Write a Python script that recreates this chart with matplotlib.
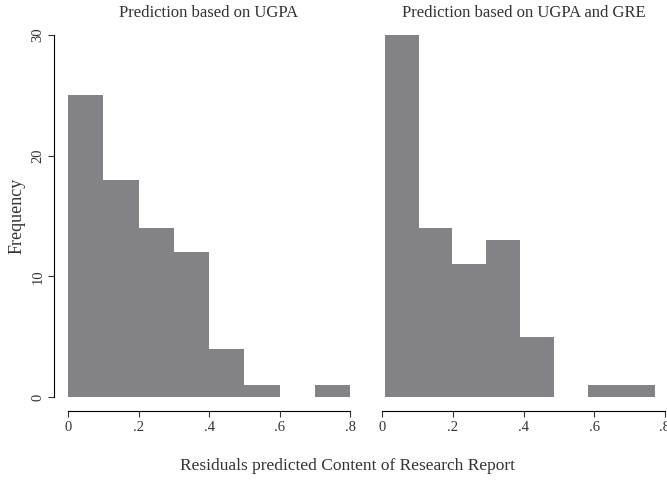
import matplotlib
matplotlib.use("Agg")
import matplotlib.pyplot as plt
import numpy as np

# histogram data
left_edges = [0.0, 0.1, 0.2, 0.3, 0.4, 0.5, 0.6, 0.7, 0.8]
left_counts = [25, 18, 14, 12, 4, 1, 0, 1]
right_edges = [0.008, 0.104, 0.199, 0.295, 0.390, 0.486, 0.581, 0.677, 0.772]
right_counts = [30, 14, 11, 13, 5, 0, 1, 1]

titles = ["Prediction based on UGPA", "Prediction based on UGPA and GRE"]
xticks = [0, 0.2, 0.4, 0.6, 0.8]
xtick_labels = ["0", ".2", ".4", ".6", ".8"]
yticks = [0, 10, 20, 30]

plt.rcParams['font.family'] = ['Liberation Serif', 'DejaVu Serif']

bar_color = '#838387'
text_color = '#333333'

fig = plt.figure(figsize=(6.67, 4.82), dpi=100)
W, H = 667, 482
y0, y1 = 1 - 397 / H, 1 - 35 / H
ax1 = fig.add_axes([68 / W, y0, (350 - 68) / W, y1 - y0])
ax2 = fig.add_axes([382 / W, y0, (665 - 382) / W, y1 - y0])

for ax, edges, counts, title in [(ax1, left_edges, left_counts, titles[0]),
                                 (ax2, right_edges, right_counts, titles[1])]:
    edges = np.array(edges)
    ax.bar(edges[:-1], counts, width=np.diff(edges), align='edge',
           color=bar_color, linewidth=0)
    ax.set_xlim(0, 0.8)
    ax.set_ylim(0, 30)
    ax.set_xticks(xticks)
    ax.set_xticklabels(xtick_labels)
    for s in ['top', 'right']:
        ax.spines[s].set_visible(False)
    ax.spines['bottom'].set_position(('outward', 10))
    ax.spines['bottom'].set_linewidth(0.8)
    ax.tick_params(axis='x', length=4, width=0.8, labelsize=10.5,
                   colors=text_color, pad=3)
    ax.set_title(title, fontsize=12, color=text_color, pad=13)

ax1.spines['left'].set_position(('outward', 10))
ax1.spines['left'].set_linewidth(0.8)
ax1.set_yticks(yticks)
ax1.tick_params(axis='y', length=4, width=0.8, labelsize=10.5,
                colors=text_color, pad=3)
for lab in ax1.get_yticklabels():
    lab.set_rotation(90)
    lab.set_va('center')
ax1.set_ylabel("Frequency", fontsize=13, color=text_color, labelpad=4)

ax2.spines['left'].set_visible(False)
ax2.set_yticks([])

fig.text(348 / W, 1 - 466 / H, "Residuals predicted Content of Research Report",
         ha='center', va='center', fontsize=12.5, color=text_color)

fig.savefig("out.png", dpi=100)
